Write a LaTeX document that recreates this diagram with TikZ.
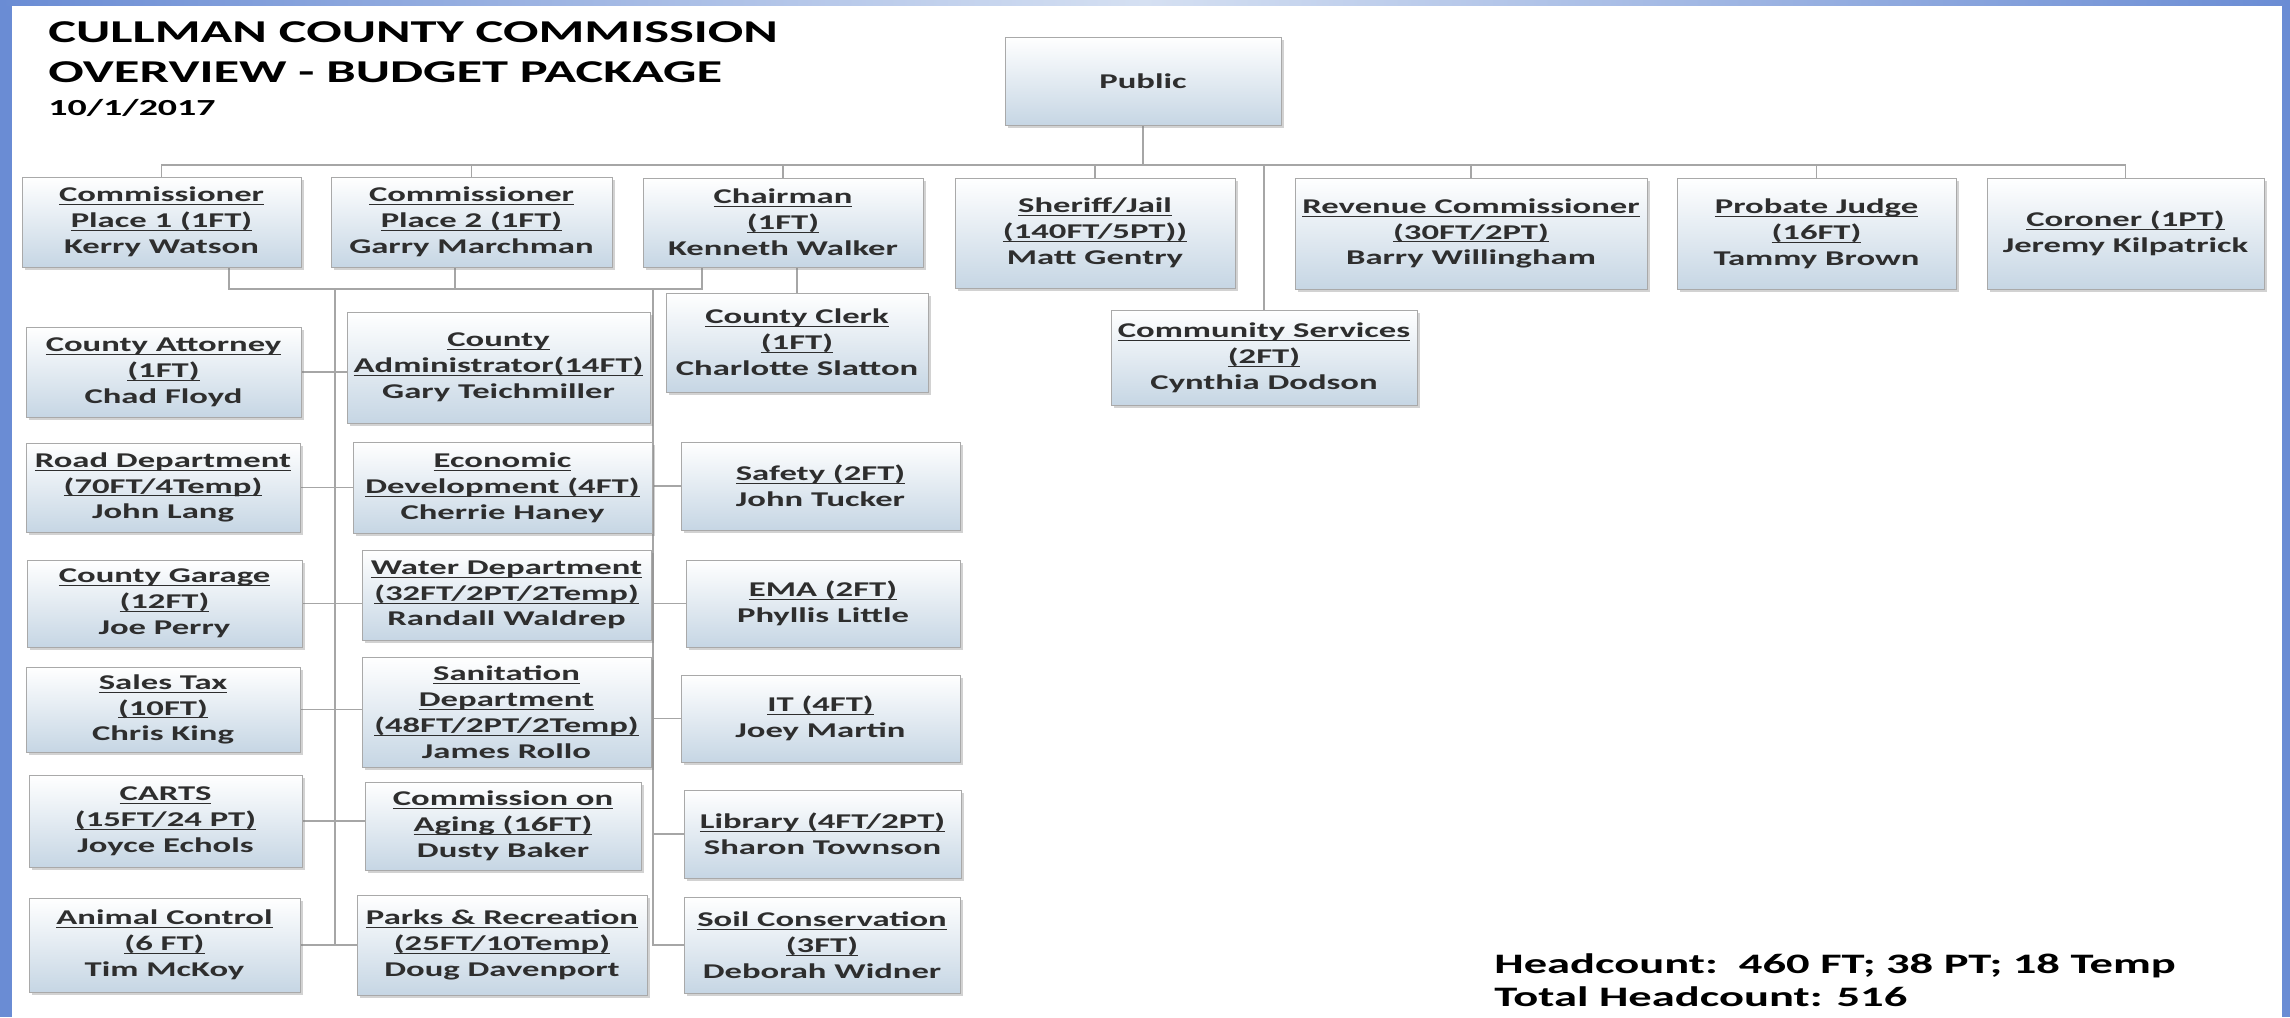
\documentclass[tikz,border=0pt]{standalone}
\usepackage{fontspec}
\setmainfont{Carlito}[FakeStretch=1.65]
\usetikzlibrary{shadows}
\definecolor{bord}{HTML}{6A8CD4}
\definecolor{stripmid}{HTML}{D5E0F2}
\definecolor{boxbot}{HTML}{C6D6E4}
\definecolor{boxline}{HTML}{A9A9A9}
\definecolor{linkc}{HTML}{A6A6A6}
\definecolor{txt}{HTML}{2E2E2E}
\newcommand{\uln}[1]{\underline{\raisebox{0pt}[\height][0pt]{#1}}}
\pgfdeclarelayer{bg}\pgfdeclarelayer{lines}\pgfsetlayers{bg,lines,main}
\begin{document}
\begin{tikzpicture}[x=0.5pt,y=-0.5pt,
 orgbox/.style={draw=boxline, line width=0.5pt, top color=white, bottom color=boxbot,
   drop shadow={shadow xshift=1.5pt, shadow yshift=-1.5pt, opacity=0.35},
   align=center, inner sep=0pt, text=txt, font=\fontsize{10.5}{12.9}\selectfont\bfseries},
 bx/.style 2 args={orgbox, minimum width=#1*0.5pt, minimum height=#2*0.5pt},
 link/.style={draw=linkc, line width=0.8pt},
 ttl/.style={anchor=base west, inner sep=0pt, text=black},
]
\useasboundingbox (0,0) rectangle (2290,1017);
\begin{pgfonlayer}{bg}
\fill[white] (0,0) rectangle (2290,1017);
\fill[bord] (0,0) rectangle (12,1017);
\fill[bord] (2282,0) rectangle (2290,1017);
\shade[left color=bord, right color=bord, middle color=stripmid] (0,0) rectangle (2290,5);
\end{pgfonlayer}

% titles
\node[ttl, font=\fontsize{15.9}{18}\selectfont\bfseries] (t1) at (48,42) {CULLMAN COUNTY COMMISSION};
\node[ttl, font=\fontsize{15.9}{18}\selectfont\bfseries] (t2) at (48,82) {OVERVIEW - BUDGET PACKAGE};
\node[ttl, font=\fontsize{11.5}{14}\selectfont\bfseries] (t3) at (48,115) {10/1/2017};

% boxes
\node[bx={276}{88}] (pub) at (1143,81) {Public};
\node[bx={279}{90}] (c1) at (161.5,222) {\uln{Commissioner}\\\uln{Place 1 (1FT)}\\Kerry Watson};
\node[bx={281}{90}] (c2) at (471.5,222) {\uln{Commissioner}\\\uln{Place 2 (1FT)}\\Garry Marchman};
\node[bx={280}{89}] (ch) at (783,222.5) {\uln{Chairman}\\\uln{(1FT)}\\Kenneth Walker};
\node[bx={280}{110}] (sh) at (1095,233) {\uln{Sheriff/Jail}\\\uln{(140FT/5PT))}\\Matt Gentry};
\node[bx={352}{111}] (rv) at (1471,233.5) {\uln{Revenue Commissioner}\\\uln{(30FT/2PT)}\\Barry Willingham};
\node[bx={279}{111}] (pj) at (1816.5,233.5) {\uln{Probate Judge}\\\uln{(16FT)}\\Tammy Brown};
\node[bx={277}{111}] (co) at (2125.5,233.5) {\uln{Coroner (1PT)}\\Jeremy Kilpatrick};
\node[bx={306}{95}] (cs) at (1264,357.5) {\uln{Community Services}\\\uln{(2FT)}\\Cynthia Dodson};
\node[bx={262}{99}] (cc) at (797,342.5) {\uln{County Clerk}\\\uln{(1FT)}\\Charlotte Slatton};
\node[bx={275}{90}] (ca) at (163.5,372) {\uln{County Attorney}\\\uln{(1FT)}\\Chad Floyd};
\node[bx={303}{111}] (cad) at (498.5,367.5) {\uln{County}\\\uln{Administrator(14FT)}\\Gary Teichmiller};
\node[bx={274}{89}] (rd) at (163,487.5) {\uln{Road Department}\\\uln{(70FT/4Temp)}\\John Lang};
\node[bx={299}{91}] (ed) at (502.5,487.5) {\uln{Economic}\\\uln{Development (4FT)}\\Cherrie Haney};
\node[bx={279}{88}] (sf) at (820.5,486) {\uln{Safety (2FT)}\\John Tucker};
\node[bx={275}{87}] (cg) at (164.5,603.5) {\uln{County Garage}\\\uln{(12FT)}\\Joe Perry};
\node[bx={289}{90}] (wd) at (506.5,595) {\uln{Water Department}\\\uln{(32FT/2PT/2Temp)}\\Randall Waldrep};
\node[bx={274}{87}] (em) at (823,603.5) {\uln{EMA (2FT)}\\Phyllis Little};
\node[bx={274}{85}] (st) at (163,709.5) {\uln{Sales Tax}\\\uln{(10FT)}\\Chris King};
\node[bx={289}{110}] (sn) at (506.5,712) {\uln{Sanitation}\\\uln{Department}\\\uln{(48FT/2PT/2Temp)}\\James Rollo};
\node[bx={279}{87}] (it) at (820.5,718.5) {\uln{IT (4FT)}\\Joey Martin};
\node[bx={273}{92}] (cr) at (165.5,821) {\uln{CARTS}\\\uln{(15FT/24 PT)}\\Joyce Echols};
\node[bx={276}{88}] (ag) at (503,826) {\uln{Commission on}\\\uln{Aging (16FT)}\\Dusty Baker};
\node[bx={277}{88}] (lb) at (822.5,834) {\uln{Library (4FT/2PT)}\\Sharon Townson};
\node[bx={271}{94}] (ac) at (164.5,945) {\uln{Animal Control}\\\uln{(6 FT)}\\Tim McKoy};
\node[bx={290}{100}] (pr) at (502,945) {\uln{Parks \& Recreation}\\\uln{(25FT/10Temp)}\\Doug Davenport};
\node[bx={276}{96}] (sc) at (822,945) {\uln{Soil Conservation}\\\uln{(3FT)}\\Deborah Widner};

% headcount
\node[ttl, font=\fontsize{14.1}{16}\selectfont\bfseries] (hc1) at (1494,973) {Headcount:\ \ 460 FT; 38 PT; 18 Temp};
\node[ttl, font=\fontsize{14.1}{16}\selectfont\bfseries] (hc2) at (1494,1006) {Total Headcount: 516};

% connectors
\coordinate (busA) at (0,165);
\coordinate (busB) at (0,289);
\coordinate (kA) at (229,0);
\coordinate (kB) at (455,0);
\coordinate (kC) at (702,0);
\coordinate (trL) at (335,0);
\coordinate (trR) at (653,0);
\coordinate (endT) at (0,946);
\begin{pgfonlayer}{lines}
\draw[link] (pub.south) -- (pub.south |- busA);
\foreach \n in {c1,c2,ch,sh,cs,rv,pj,co} \draw[link] (pub.south |- busA) -| (\n.north);
\draw[link] (kA |- c1.south) -- (kA |- busB) -- (kC |- busB) -- (kC |- ch.south);
\draw[link] (kB |- c2.south) -- (kB |- busB);
\draw[link] (trL |- busB) -- (trL |- endT);
\draw[link] (trR |- busB) -- (trR |- endT);
\draw[link] (cc.north |- ch.south) -- (cc.north);
\foreach \a/\b in {ca/cad, rd/ed, cg/wd, st/sn, cr/ag, ac/pr} \draw[link] (\a.east) -- (\a.east -| \b.west);
\foreach \b in {sf,em,it,lb,sc} \draw[link] (trR |- \b.west) -- (\b.west);
\end{pgfonlayer}
\end{tikzpicture}
\end{document}
